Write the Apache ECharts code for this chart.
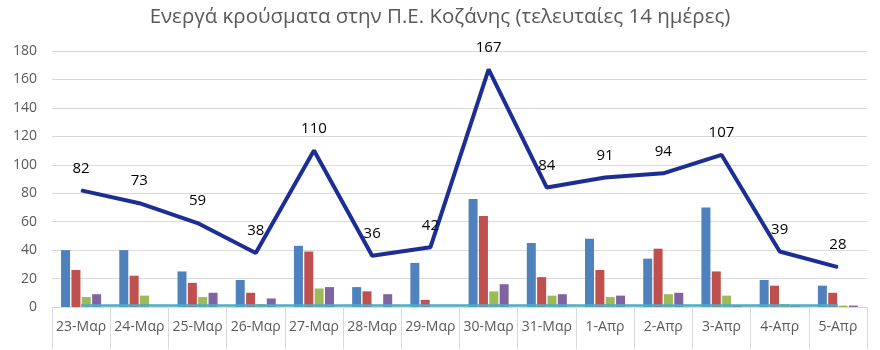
<!DOCTYPE html>
<html>
<head>
<meta charset="utf-8">
<script src="https://cdn.jsdelivr.net/npm/echarts@6/dist/echarts.min.js"></script>
<style>
  html, body { margin: 0; padding: 0; background: #fff; }
  #chart { width: 880px; height: 350px; }
</style>
</head>
<body>
<div id="chart"></div>
<script>
// Daily figures for the regional unit of Kozani, last 14 days
const categories = ['23-Μαρ', '24-Μαρ', '25-Μαρ', '26-Μαρ', '27-Μαρ', '28-Μαρ', '29-Μαρ',
                    '30-Μαρ', '31-Μαρ', '1-Απρ', '2-Απρ', '3-Απρ', '4-Απρ', '5-Απρ'];
const activeCases = [82, 73, 59, 38, 110, 36, 42, 167, 84, 91, 94, 107, 39, 28];
const seriesBlue   = [40, 40, 25, 19, 43, 14, 31, 76, 45, 48, 34, 70, 19, 15];
const seriesRed    = [26, 22, 17, 10, 39, 11, 5, 64, 21, 26, 41, 25, 15, 10];
const seriesGreen  = [7, 8, 7, 2, 13, 0, 0, 11, 8, 7, 9, 8, 2, 1];
const seriesPurple = [9, 0, 10, 6, 14, 9, 0, 16, 9, 8, 10, 1, 1, 1];
const seriesTeal   = [1, 1, 1, 1, 1, 1, 1, 1, 1, 1, 1, 1, 1, 1];
const yTicks = { min: 0, max: 180, interval: 20 };

const chart = echarts.init(document.getElementById('chart'));
const font = 'Open Sans, Liberation Sans, sans-serif';

function barSeries(name, data, color) {
  return {
    name, type: 'bar', data,
    barWidth: 9, barGap: '15%',
    itemStyle: { color },
    z: 2
  };
}

chart.setOption({
  animation: false,
  title: {
    text: 'Ενεργά κρούσματα στην Π.Ε. Κοζάνης (τελευταίες 14 ημέρες)',
    left: 'center', top: 2,
    textStyle: { fontFamily: font, fontSize: 20.5, fontWeight: 'normal', color: '#595959' }
  },
  grid: { left: 52, right: 13, top: 51, bottom: 43 },
  xAxis: {
    type: 'category', data: categories,
    axisLine: { lineStyle: { color: '#d9d9d9', width: 1 } },
    axisTick: { show: true, alignWithLabel: false, length: 42, lineStyle: { color: '#d9d9d9' } },
    axisLabel: { fontFamily: font, fontSize: 14, color: '#595959', margin: 13, interval: 0 }
  },
  yAxis: {
    type: 'value', min: yTicks.min, max: yTicks.max, interval: yTicks.interval,
    axisLine: { show: false }, axisTick: { show: false },
    axisLabel: { fontFamily: font, fontSize: 14, color: '#595959', margin: 15 },
    splitLine: { lineStyle: { color: '#d9d9d9', width: 1 } }
  },
  series: [
    barSeries('s1', seriesBlue, '#4f81bd'),
    barSeries('s2', seriesRed, '#c0504d'),
    barSeries('s3', seriesGreen, '#9bbb59'),
    barSeries('s4', seriesPurple, '#8064a2'),
    {
      name: 's5', type: 'line', data: seriesTeal,
      symbol: 'none', lineStyle: { color: '#4bacc6', width: 2.5 }, z: 3
    },
    {
      name: 'Ενεργά', type: 'line', data: activeCases,
      symbol: 'circle', symbolSize: 1, showSymbol: true,
      itemStyle: { color: '#1c2e96' },
      lineStyle: { color: '#1c2e96', width: 4 },
      label: {
        show: true, position: 'top', distance: 14,
        fontFamily: font, fontSize: 15, color: '#000'
      },
      z: 5
    }
  ]
});
</script>
</body>
</html>
